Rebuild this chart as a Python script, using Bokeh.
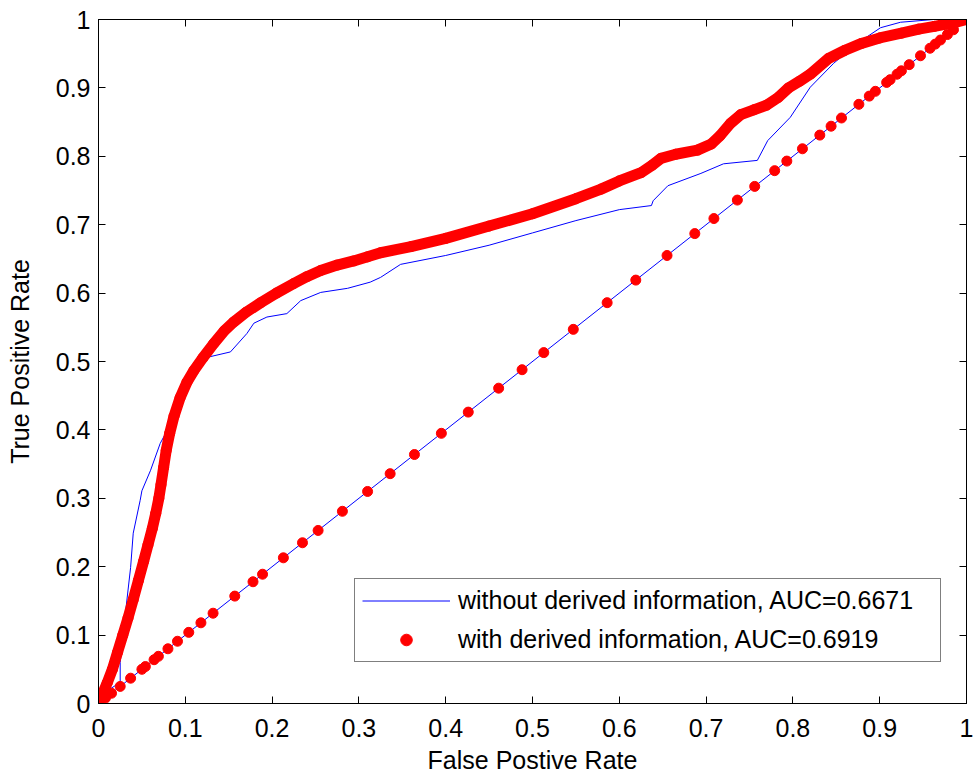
from bokeh.plotting import figure
from bokeh.models import Range1d, FixedTicker, LinearAxis, CustomJSTickFormatter, Legend, LegendItem
from bokeh.embed import file_html
from bokeh.resources import INLINE

# ---- data ----
ticks = [0, 0.1, 0.2, 0.3, 0.4, 0.5, 0.6, 0.7, 0.8, 0.9, 1.0]

# "without derived information" ROC curve (blue, stepped)
blue_curve_x = [0.0, 0.012, 0.025, 0.025, 0.031, 0.037, 0.040, 0.048, 0.050, 0.060, 0.071, 0.079,
                0.100, 0.115, 0.125, 0.152, 0.171, 0.179, 0.194, 0.217, 0.233, 0.256, 0.287,
                0.313, 0.325, 0.348, 0.400, 0.450, 0.500, 0.550, 0.600, 0.637, 0.639, 0.656,
                0.694, 0.720, 0.759, 0.771, 0.797, 0.820, 0.847, 0.874, 0.901, 0.924, 0.962, 1.0]
blue_curve_y = [0.0, 0.020, 0.031, 0.060, 0.132, 0.199, 0.249, 0.297, 0.311, 0.341, 0.380, 0.399,
                0.460, 0.495, 0.506, 0.514, 0.541, 0.556, 0.565, 0.570, 0.589, 0.601, 0.607,
                0.616, 0.623, 0.642, 0.655, 0.670, 0.688, 0.706, 0.722, 0.728, 0.735, 0.757,
                0.775, 0.789, 0.794, 0.823, 0.857, 0.901, 0.936, 0.965, 0.988, 0.996, 1.0, 1.0]
# chance diagonal, drawn back from (1,1) to (0,0)
diag_line = [1.0, 0.0]

# "with derived information" ROC curve (red markers)
red_curve_x = [0.0, 0.004, 0.010, 0.016, 0.022, 0.028, 0.034, 0.040, 0.046, 0.052, 0.057, 0.062,
               0.066, 0.0695, 0.072, 0.075, 0.078, 0.082, 0.087, 0.094, 0.102, 0.110, 0.120,
               0.1326, 0.145, 0.156, 0.170, 0.187, 0.205, 0.225, 0.240, 0.256, 0.275, 0.294,
               0.310, 0.325, 0.360, 0.400, 0.450, 0.500, 0.550, 0.579, 0.600, 0.625, 0.638,
               0.648, 0.665, 0.690, 0.706, 0.716, 0.728, 0.740, 0.755, 0.770, 0.783, 0.795,
               0.808, 0.820, 0.841, 0.860, 0.879, 0.900, 0.925, 0.945, 0.963, 0.988, 1.0]
red_curve_y = [0.0, 0.012, 0.030, 0.050, 0.075, 0.100, 0.125, 0.152, 0.180, 0.208, 0.232, 0.256,
               0.278, 0.300, 0.320, 0.345, 0.370, 0.395, 0.420, 0.447, 0.470, 0.487, 0.505,
               0.526, 0.545, 0.558, 0.572, 0.586, 0.600, 0.614, 0.624, 0.633, 0.641, 0.647,
               0.653, 0.659, 0.668, 0.680, 0.698, 0.716, 0.738, 0.752, 0.764, 0.776, 0.787,
               0.797, 0.803, 0.809, 0.818, 0.830, 0.848, 0.861, 0.868, 0.875, 0.886, 0.900,
               0.910, 0.920, 0.943, 0.955, 0.965, 0.973, 0.980, 0.986, 0.990, 0.996, 1.0]
# red markers on the chance diagonal (x = y), from (1,1) back to (0,0)
red_diag = [0.985, 0.978, 0.970, 0.964, 0.958, 0.947, 0.934, 0.925, 0.920, 0.912, 0.908, 0.895,
            0.888, 0.876, 0.856, 0.844, 0.831, 0.811, 0.793, 0.779, 0.756, 0.736, 0.709, 0.687,
            0.655, 0.619, 0.586, 0.547, 0.513, 0.488, 0.461, 0.426, 0.395, 0.364, 0.336, 0.310,
            0.281, 0.253, 0.235, 0.213, 0.189, 0.178, 0.157, 0.132, 0.118, 0.104, 0.091, 0.080,
            0.069, 0.064, 0.054, 0.050, 0.037, 0.025, 0.015, 0.008]

labels = ["without derived information, AUC=0.6671", "with derived information, AUC=0.6919"]
x_title = "False Postive Rate"
y_title = "True Positive Rate"

FONT = "Liberation Sans"
FS = "25px"

blue_x = blue_curve_x + diag_line
blue_y = blue_curve_y + diag_line
red_x = red_curve_x + red_diag
red_y = red_curve_y + red_diag

p = figure(width=974, height=777, x_range=Range1d(0, 1), y_range=Range1d(0, 1),
           output_backend="svg", toolbar_location=None,
           min_border_left=98, min_border_top=19, min_border_right=8, min_border_bottom=74)
p.grid.visible = False
p.outline_line_color = "black"
p.background_fill_color = "white"
p.border_fill_color = "white"

fmt = CustomJSTickFormatter(code="return Number(tick.toFixed(1)).toString();")
empty = CustomJSTickFormatter(code="return '';")

for ax in (p.xaxis[0], p.yaxis[0]):
    ax.ticker = FixedTicker(ticks=ticks)
    ax.formatter = fmt
    ax.major_tick_in = 7
    ax.major_tick_out = 0
    ax.minor_tick_line_color = None
    ax.axis_line_color = "black"
    ax.major_tick_line_color = "black"
    ax.major_label_text_font = FONT
    ax.major_label_text_font_size = FS
    ax.major_label_text_color = "black"
    ax.axis_label_text_font = FONT
    ax.axis_label_text_font_size = FS
    ax.axis_label_text_font_style = "normal"
    ax.axis_label_text_color = "black"

p.xaxis[0].axis_label = x_title
p.yaxis[0].axis_label = y_title
p.xaxis[0].major_label_standoff = 15
p.xaxis[0].axis_label_standoff = 6
p.yaxis[0].major_label_standoff = 8
p.yaxis[0].axis_label_standoff = 19

for side in ("above", "right"):
    ax = LinearAxis(ticker=FixedTicker(ticks=ticks), formatter=empty,
                    major_tick_in=7, major_tick_out=0, minor_tick_line_color=None,
                    major_label_standoff=0, axis_line_color="black",
                    major_tick_line_color="black")
    p.add_layout(ax, side)

blue = p.line(blue_x, blue_y, line_color="#0000FF", line_width=1)
p.line(red_curve_x, red_curve_y, line_color="#FF0000", line_width=11,
       line_join="round", line_cap="round")
red = p.scatter(red_x, red_y, size=10, marker="circle", fill_color="#FF0000",
                line_color="#FF0000")

legend = Legend(items=[LegendItem(label=labels[0], renderers=[blue]),
                       LegendItem(label=labels[1], renderers=[red])],
                location=(256, 41), orientation="vertical",
                padding=7, spacing=10, glyph_width=88, glyph_height=29,
                label_standoff=8, label_width=475, label_height=29,
                label_text_font=FONT, label_text_font_size=FS, label_text_color="black",
                border_line_color="black", border_line_width=1,
                background_fill_color="white", background_fill_alpha=1.0,
                margin=0)
p.add_layout(legend, "center")

open("out.html", "w").write(file_html(p, INLINE))
